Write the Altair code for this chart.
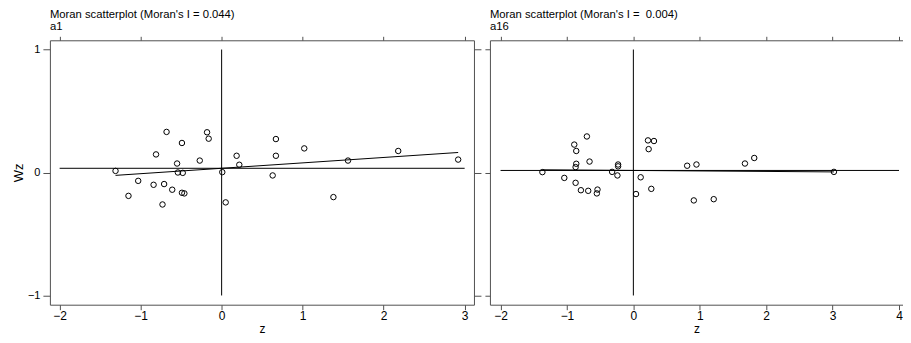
import altair as alt
import pandas as pd

# ---- data ----
z_a1 = [-1.31, -1.03, -1.15, -0.68, -0.81, -0.84, -0.73, -0.71, -0.61, -0.49,
        -0.55, -0.54, -0.48, -0.49, -0.46, -0.27, -0.18, -0.16, 0.008, 0.05,
        0.185, 0.218, 0.63, 0.67, 0.67, 1.02, 1.38, 1.56, 2.18, 2.92]
wz_a1 = [0.013, -0.068, -0.19, 0.33, 0.147, -0.10, -0.26, -0.094, -0.14, 0.24,
         0.073, 0.0, -0.003, -0.165, -0.17, 0.097, 0.327, 0.275, 0.003, -0.243,
         0.136, 0.063, -0.024, 0.272, 0.136, 0.196, -0.20, 0.097, 0.175, 0.105]

z_a16 = [-1.37, -1.04, -0.89, -0.86, -0.86, -0.87, -0.87, -0.79, -0.70, -0.66,
         -0.68, -0.54, -0.55, -0.32, -0.23, -0.23, -0.24, 0.04, 0.11, 0.22,
         0.31, 0.23, 0.27, 0.81, 0.95, 0.91, 1.21, 1.68, 1.82, 3.02]
wz_a16 = [0.003, -0.044, 0.227, 0.175, 0.071, 0.044, -0.084, -0.144, 0.293, 0.089,
          -0.149, -0.139, -0.17, 0.005, 0.065, 0.05, -0.024, -0.175, -0.039, 0.261,
          0.256, 0.19, -0.133, 0.055, 0.065, -0.227, -0.217, 0.073, 0.118, 0.005]

titles = ["Moran scatterplot (Moran's I = 0.044)", "Moran scatterplot (Moran's I =\u00a0 0.004)"]
subtitles = ["a1", "a16"]
x_ticks_a1 = [-2, -1, 0, 1, 2, 3]
x_ticks_a16 = [-2, -1, 0, 1, 2, 3, 4]
y_ticks = [-1, 0, 1]

AX = "#505050"
FONT = "Liberation Sans"
LFONT = "Liberation Sans Narrow, Liberation Sans"
PLOT_H = 265


def panel(z, wz, xdom, xticks, width, title, subtitle, first):
    df = pd.DataFrame({"z": z, "wz": wz})
    xs = alt.Scale(domain=xdom, nice=False, zero=False)
    ys = alt.Scale(domain=[-1.075, 1.075], nice=False, zero=False)
    base = alt.Chart(df)

    pts = base.mark_point(filled=False, color="black", size=30, strokeWidth=1, opacity=1).encode(
        x=alt.X("z:Q", scale=xs,
                axis=alt.Axis(orient="bottom", values=xticks, title="z", tickSize=5,
                              labelFont=LFONT, labelFontSize=12,
                              labelPadding=1, titlePadding=2, titleFontSize=12, format="d")),
        y=alt.Y("wz:Q", scale=ys,
                axis=alt.Axis(orient="left", values=y_ticks, title="Wz" if first else None,
                              labels=first, tickSize=7 if first else 5, labelPadding=3,
                              labelFont=FONT, labelFontSize=11,
                              titlePadding=2, titleFontSize=13, format="d")),
    )

    vline = alt.Chart(pd.DataFrame({"k": [0]})).mark_rule(color="black", strokeWidth=1).encode(
        x=alt.X(datum=0, scale=xs,
                axis=alt.Axis(orient="top", values=xticks, labels=False, title=None, tickSize=4)),
        y=alt.Y(datum=-1, scale=ys,
                axis=(alt.Axis(orient="right", values=y_ticks, labels=False, title=None, tickSize=7)
                      if first else None)),
        y2=alt.Y2(datum=1),
    )

    hline = base.mark_rule(color="black", strokeWidth=1).encode(
        y=alt.Y("mean(wz):Q", scale=ys, axis=None),
        x=alt.X(datum=xticks[0], scale=xs, axis=None),
        x2=alt.X2(datum=xticks[-1]),
    )

    reg = base.transform_regression("z", "wz").mark_line(color="black", strokeWidth=1).encode(
        x=alt.X("z:Q", scale=xs, axis=None),
        y=alt.Y("wz:Q", scale=ys, axis=None),
    )

    return alt.layer(pts, vline, hline, reg).resolve_axis(x="independent", y="independent").properties(
        width=width, height=PLOT_H,
        title=alt.TitleParams(title, subtitle=subtitle, anchor="start", frame="group",
                              font=FONT, fontSize=11.3, fontWeight="normal", color="black",
                              subtitleFont=FONT, subtitleFontSize=11.3, subtitleColor="black",
                              subtitlePadding=0, offset=4),
    )


left = panel(z_a1, wz_a1, [-2.12, 3.115], x_ticks_a1, 425, titles[0], subtitles[0], True)
right = panel(z_a16, wz_a16, [-2.16, 4.06], x_ticks_a16, 414, titles[1], subtitles[1], False)

chart = alt.hconcat(left, right, spacing=16, bounds="flush").properties(
    padding={"left": 4, "top": 0, "right": 0, "bottom": 0}
).configure_view(stroke=None).configure_axis(
    domainColor=AX, tickColor=AX, domainWidth=1, tickWidth=1, grid=False,
    labelColor="black",
    titleFont=FONT, titleFontWeight="normal", titleColor="black",
)

chart.save("out.html", embed_options={"renderer": "svg", "actions": False})
